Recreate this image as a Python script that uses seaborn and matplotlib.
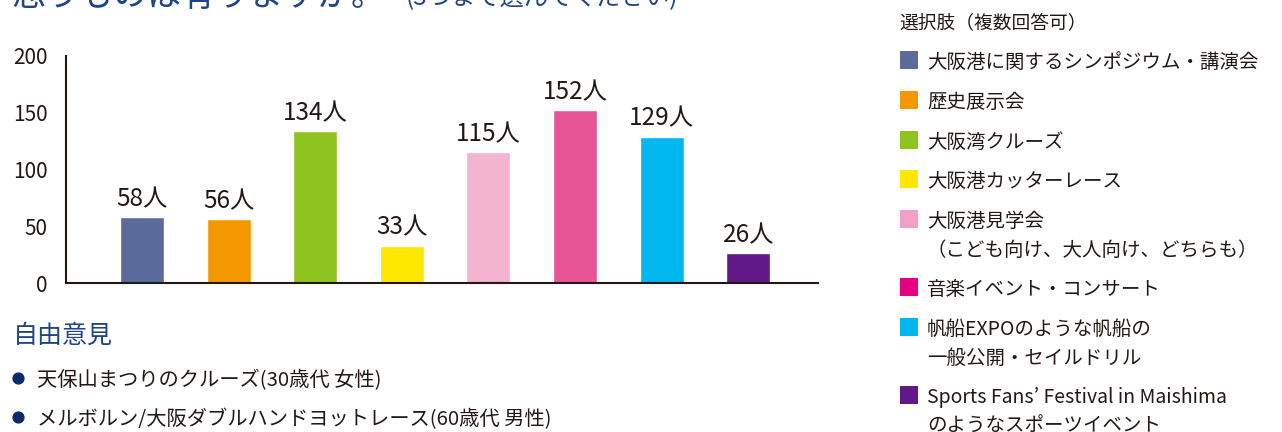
"""Bar chart of event preferences with side legend and free comments."""

import matplotlib
matplotlib.use("Agg")
import matplotlib.pyplot as plt
from matplotlib.lines import Line2D
from matplotlib.patches import Rectangle
import pandas as pd
import seaborn as sns

# Data
categories = [
    "大阪港に関するシンポジウム・講演会",
    "歴史展示会",
    "大阪湾クルーズ",
    "大阪港カッターレース",
    "大阪港見学会\n（こども向け、大人向け、どちらも）",
    "音楽イベント・コンサート",
    "帆船EXPOのような帆船の\n一般公開・セイルドリル",
    "Sports Fans’ Festival in Maishima\nのようなスポーツイベント",
]
counts = [58, 56, 134, 33, 115, 152, 129, 26]
bar_colors = ["#5a6b9c", "#f39800", "#8fc31f", "#ffe800",
              "#f3b4d0", "#e85597", "#00b7ee", "#601986"]
legend_colors = ["#5a6b9c", "#f39800", "#8fc31f", "#ffe800",
                 "#f0a0c6", "#e4007f", "#00b7ee", "#601986"]
y_ticks = [0, 50, 100, 150, 200]
legend_title = "選択肢（複数回答可）"
title_main = "思うものは有りますか。"
title_sub = "(3つまで選んでください)"
comments_heading = "自由意見"
comments = [
    "天保山まつりのクルーズ(30歳代 女性)",
    "メルボルン/大阪ダブルハンドヨットレース(60歳代 男性)",
]

INK = "#231815"
NAVY = "#1f4585"
W, H = 1282, 432

sns.set_style("white")
plt.rcParams["font.family"] = ["Noto Sans CJK JP", "DejaVu Sans"]


def fx(px):
    return px / W


def fy(py):
    return 1 - py / H


df = pd.DataFrame({"cat": categories, "count": counts})

fig = plt.figure(figsize=(W / 100, H / 100), dpi=100)
ax = fig.add_axes([fx(66), fy(283), fx(818) - fx(66), fy(56) - fy(283)])

sns.barplot(data=df, x="cat", y="count", hue="cat", palette=bar_colors,
            width=0.51, legend=False, ax=ax, saturation=1)

for cont in ax.containers:
    ax.bar_label(cont, labels=[f"{int(v)}人" for v in cont.datavalues],
                 padding=3.5, fontsize=17.5, color=INK)

ax.set_xlim(-0.878, 7.806)
ax.set_ylim(0, 200)
ax.set_yticks(y_ticks)
ax.set_xticks([])
ax.set_xlabel("")
ax.set_ylabel("")
sns.despine(ax=ax)
for side in ["left", "bottom"]:
    ax.spines[side].set_color(INK)
    ax.spines[side].set_linewidth(1.5)
ax.tick_params(axis="y", direction="in", length=6.5, width=1.5, color=INK,
               pad=13, labelsize=15, labelcolor=INK)

# Title (cut off at the top edge, as in the source)
fig.text(fx(11), fy(6), title_main, fontsize=24.5, color=NAVY, va="baseline")
fig.text(fx(406), fy(5), title_sub, fontsize=17.5, color=NAVY, va="baseline")

# Legend drawn by hand so markers align with the first line of each label
fig.text(fx(899), fy(20), legend_title, fontsize=13.5, color=INK,
         va="center_baseline")
row_y = [60, 100, 140, 179, 219, 287, 327, 395]
for label, col, ry in zip(categories, legend_colors, row_y):
    fig.add_artist(Rectangle((fx(900), fy(ry + 9)), fx(18), fy(ry - 9) - fy(ry + 9),
                             transform=fig.transFigure, color=col, lw=0))
    for i, line in enumerate(label.split("\n")):
        fig.text(fx(927), fy(ry + 29 * i), line, fontsize=14, color=INK,
                 va="center_baseline")

# Free comments
fig.text(fx(13), fy(333), comments_heading, fontsize=18, color=NAVY,
         va="center_baseline")
for cy, text in zip([378, 417], comments):
    fig.add_artist(Line2D([fx(18)], [fy(cy)], marker="o", markersize=7.8,
                          color="#0b2a66", transform=fig.transFigure))
    fig.text(fx(37), fy(cy), text, fontsize=14.6, color=INK,
             va="center_baseline")

fig.savefig("out.png", dpi=100)
plt.close(fig)
